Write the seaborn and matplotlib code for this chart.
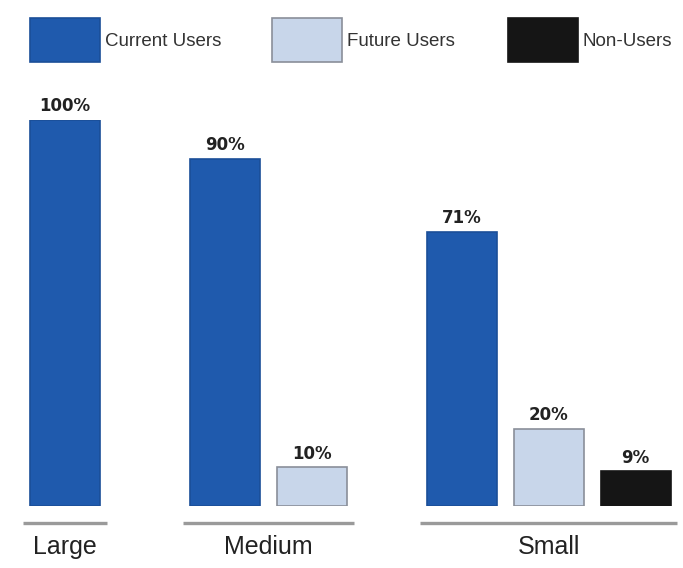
import matplotlib
matplotlib.use("Agg")
import matplotlib.pyplot as plt
import seaborn as sns
import pandas as pd
from matplotlib.patches import Rectangle

# ---- data ----
groups = ["Large", "Medium", "Small"]
series = ["Current Users", "Future Users", "Non-Users"]
large_vals = [100]
medium_vals = [90, 10]
small_vals = [71, 20, 9]
value_labels = {"Large": ["100%"], "Medium": ["90%", "10%"], "Small": ["71%", "20%", "9%"]}

colors = {"Current Users": "#1f5aad", "Future Users": "#c8d6ea", "Non-Users": "#151515"}
edges = {"Current Users": "#1b4f98", "Future Users": "#8a8f99", "Non-Users": "#151515"}

# layout: starting slot position of each group (bar pitch = 1 unit)
group_start = {"Large": 0.0, "Medium": 1.84, "Small": 4.56}

rows = []
for g, vals in zip(groups, [large_vals, medium_vals, small_vals]):
    for i, v in enumerate(vals):
        rows.append({"group": g, "series": series[i], "value": v,
                     "pos": group_start[g] + i, "label": value_labels[g][i]})
df = pd.DataFrame(rows)

sns.set_theme(style="white")
plt.rcParams["font.family"] = ["Liberation Sans", "DejaVu Sans"]

fig = plt.figure(figsize=(6.83, 5.68), dpi=100)
ax = fig.add_axes([0, 1 - 506 / 568, 1, (506 - 120) / 568])

sns.barplot(data=df, x="pos", y="value", hue="series", hue_order=series,
            palette=colors, native_scale=True, dodge=False, width=0.8,
            ax=ax, legend=False, saturation=1)

for patch in ax.patches:
    fc = patch.get_facecolor()
    for s in series:
        if matplotlib.colors.to_hex(fc) == colors[s]:
            patch.set_edgecolor(edges[s])
            patch.set_linewidth(1.2)

ax.set_xlim(-65 / 87, (683 - 65) / 87)
ax.set_ylim(0, 100)
ax.axis("off")

# value labels
for _, r in df.iterrows():
    ax.text(r["pos"], r["value"] + 1.2, r["label"], ha="center", va="bottom",
            fontsize=12, fontweight="bold", color="#222222", clip_on=False,
            family=["DejaVu Sans"])

# group underlines and labels
for g in groups:
    n = (df["group"] == g).sum()
    left = group_start[g] - 0.48
    right = group_start[g] + n - 1 + 0.48
    center = group_start[g] + (n - 1) / 2
    ax.plot([left, right], [-4.4, -4.4], color="#9a9a9a", lw=2.4, clip_on=False,
            solid_capstyle="butt")
    ax.text(center, -7.6, g, ha="center", va="top", fontsize=18, color="#222222",
            clip_on=False)

# legend at top
W, H = 683, 568
legend_x = [30, 272, 508]
for s, x0 in zip(series, legend_x):
    fig.add_artist(Rectangle((x0 / W, 1 - 62 / H), 70 / W, 44 / H,
                             transform=fig.transFigure, facecolor=colors[s],
                             edgecolor=edges[s], linewidth=1.2))
    fig.text((x0 + 75) / W, 1 - 42 / H, s, ha="left", va="center", fontsize=13.5,
             color="#333333")

fig.savefig("out.png", dpi=100, facecolor="white")
